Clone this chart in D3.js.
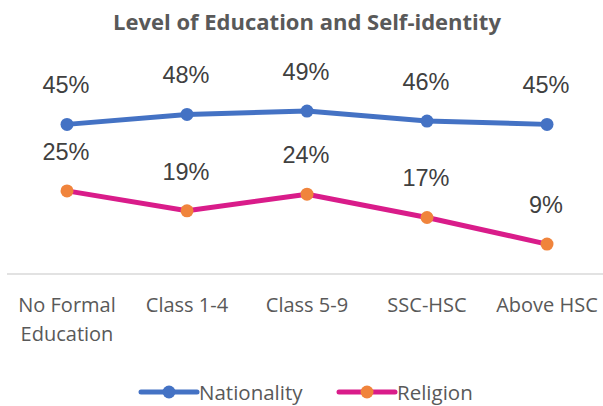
<!DOCTYPE html>
<html>
<head>
<meta charset="utf-8">
<script src="https://cdn.jsdelivr.net/npm/d3@7"></script>
<style>
  body { margin: 0; background: #fff; }
  svg { display: block; }
</style>
</head>
<body>
<div id="chart"></div>
<script>
// data
const categories = [["No Formal", "Education"], ["Class 1-4"], ["Class 5-9"], ["SSC-HSC"], ["Above HSC"]];
const nationality = [45, 48, 49, 46, 45];
const religion = [25, 19, 24, 17, 9];
const seriesNames = ["Nationality", "Religion"];

const width = 603, height = 406;
const plot = { left: 7, right: 607, top: 74.5, bottom: 274 };

const svg = d3.select("#chart").append("svg")
    .attr("width", width)
    .attr("height", height);

// category band scale, points sit in the middle of each band
const x = d3.scaleBand()
    .domain(d3.range(categories.length))
    .range([plot.left, plot.right]);
const cx = i => x(i) + x.bandwidth() / 2;

const y = d3.scaleLinear()
    .domain([0, 60])
    .range([plot.bottom, plot.top]);

// title
svg.append("text")
    .attr("x", 307)
    .attr("y", 30)
    .attr("text-anchor", "middle")
    .style("font-family", "'Open Sans', sans-serif")
    .style("font-weight", "bold")
    .style("font-size", "22px")
    .style("fill", "#595959")
    .text("Level of Education and Self-identity");

// category axis line
svg.append("line")
    .attr("x1", plot.left)
    .attr("x2", plot.right)
    .attr("y1", y(0))
    .attr("y2", y(0))
    .style("stroke", "#d9d9d9")
    .style("stroke-width", 1.5);

// category labels
const catText = svg.append("g").selectAll("text")
    .data(categories)
    .join("text")
    .attr("x", (d, i) => cx(i))
    .attr("y", 312)
    .attr("text-anchor", "middle")
    .style("font-family", "'Open Sans', sans-serif")
    .style("font-size", "20px")
    .style("fill", "#595959");
catText.selectAll("tspan")
    .data(d => d)
    .join("tspan")
    .attr("x", function () { return this.parentNode.getAttribute("x"); })
    .attr("dy", (d, j) => j === 0 ? 0 : 29)
    .text(d => d);

const series = [
    { name: seriesNames[0], values: nationality, line: "#4472c4", marker: "#4472c4" },
    { name: seriesNames[1], values: religion, line: "#d91c8a", marker: "#f0843c" }
];

const line = d3.line()
    .x((d, i) => cx(i))
    .y(d => y(d));

series.forEach(s => {
    const g = svg.append("g");
    g.append("path")
        .attr("d", line(s.values))
        .style("fill", "none")
        .style("stroke", s.line)
        .style("stroke-width", 5)
        .style("stroke-linejoin", "round");
    g.selectAll("circle")
        .data(s.values)
        .join("circle")
        .attr("cx", (d, i) => cx(i))
        .attr("cy", d => y(d))
        .attr("r", 6.5)
        .style("fill", s.marker);
    g.selectAll("text")
        .data(s.values)
        .join("text")
        .attr("x", (d, i) => cx(i) - 1)
        .attr("y", d => y(d) - 31)
        .attr("text-anchor", "middle")
        .style("font-family", "'Liberation Sans', Arial, sans-serif")
        .style("font-size", "23.5px")
        .style("fill", "#404040")
        .text(d => d + "%");
});

// legend
const legendX = [141, 339];
const legend = svg.append("g").selectAll("g")
    .data(series)
    .join("g")
    .attr("transform", (d, i) => `translate(${legendX[i]},392)`);
legend.append("line")
    .attr("x1", 0).attr("x2", 56)
    .style("stroke", d => d.line)
    .style("stroke-width", 5)
    .style("stroke-linecap", "round");
legend.append("circle")
    .attr("cx", 28)
    .attr("r", 6.5)
    .style("fill", d => d.marker);
legend.append("text")
    .attr("x", 58)
    .attr("y", 8)
    .style("font-family", "'Open Sans', sans-serif")
    .style("font-size", "20.5px")
    .style("fill", "#595959")
    .text(d => d.name);
</script>
</body>
</html>
